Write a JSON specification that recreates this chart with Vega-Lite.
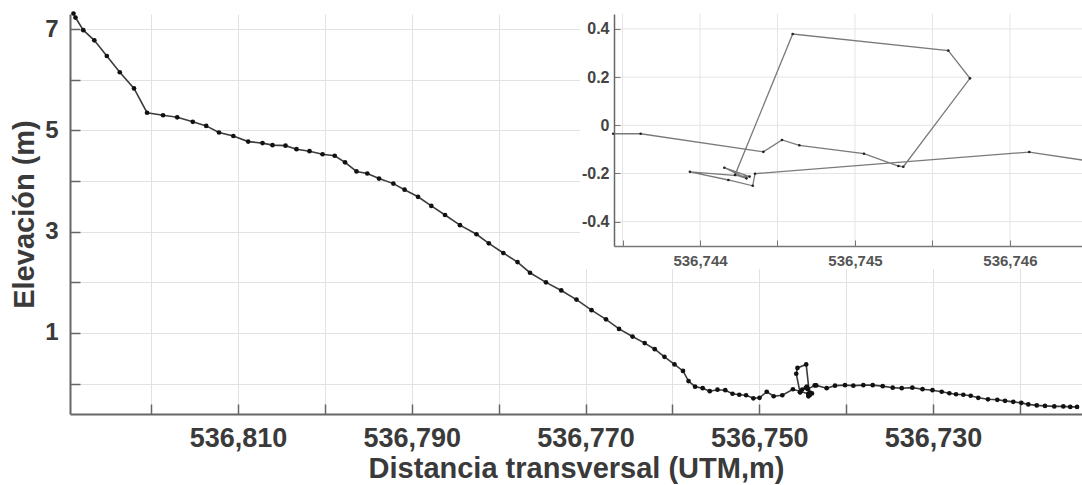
{
  "$schema": "https://vega.github.io/schema/vega-lite/v6.json",
  "width": 1012,
  "height": 400,
  "autosize": {"type": "none"},
  "padding": {"left": 70, "top": 14, "right": 0, "bottom": 71},
  "background": "white",
  "config": {
    "view": {"stroke": null},
    "font": "Liberation Sans"
  },
  "datasets": {
    "profile": [
      {"i": 1, "x": 536828.94, "y": 7.31},
      {"i": 2, "x": 536828.71, "y": 7.23},
      {"i": 3, "x": 536827.81, "y": 6.98},
      {"i": 4, "x": 536826.54, "y": 6.78},
      {"i": 5, "x": 536825.10, "y": 6.47},
      {"i": 6, "x": 536823.61, "y": 6.15},
      {"i": 7, "x": 536821.97, "y": 5.83},
      {"i": 8, "x": 536820.47, "y": 5.35},
      {"i": 9, "x": 536818.63, "y": 5.30},
      {"i": 10, "x": 536817.00, "y": 5.26},
      {"i": 11, "x": 536815.21, "y": 5.17},
      {"i": 12, "x": 536813.66, "y": 5.09},
      {"i": 13, "x": 536812.19, "y": 4.96},
      {"i": 14, "x": 536810.54, "y": 4.89},
      {"i": 15, "x": 536808.83, "y": 4.78},
      {"i": 16, "x": 536807.18, "y": 4.75},
      {"i": 17, "x": 536806.03, "y": 4.71},
      {"i": 18, "x": 536804.53, "y": 4.70},
      {"i": 19, "x": 536803.27, "y": 4.63},
      {"i": 20, "x": 536801.77, "y": 4.59},
      {"i": 21, "x": 536800.27, "y": 4.53},
      {"i": 22, "x": 536798.87, "y": 4.50},
      {"i": 23, "x": 536797.68, "y": 4.37},
      {"i": 24, "x": 536796.36, "y": 4.19},
      {"i": 25, "x": 536795.12, "y": 4.15},
      {"i": 26, "x": 536793.77, "y": 4.05},
      {"i": 27, "x": 536792.12, "y": 3.95},
      {"i": 28, "x": 536790.83, "y": 3.83},
      {"i": 29, "x": 536789.28, "y": 3.69},
      {"i": 30, "x": 536787.75, "y": 3.51},
      {"i": 31, "x": 536786.17, "y": 3.33},
      {"i": 32, "x": 536784.45, "y": 3.13},
      {"i": 33, "x": 536782.55, "y": 2.95},
      {"i": 34, "x": 536781.13, "y": 2.77},
      {"i": 35, "x": 536779.46, "y": 2.58},
      {"i": 36, "x": 536777.83, "y": 2.40},
      {"i": 37, "x": 536776.39, "y": 2.19},
      {"i": 38, "x": 536774.55, "y": 2.00},
      {"i": 39, "x": 536772.79, "y": 1.84},
      {"i": 40, "x": 536771.04, "y": 1.66},
      {"i": 41, "x": 536769.31, "y": 1.45},
      {"i": 42, "x": 536767.64, "y": 1.27},
      {"i": 43, "x": 536766.14, "y": 1.08},
      {"i": 44, "x": 536764.59, "y": 0.93},
      {"i": 45, "x": 536763.19, "y": 0.80},
      {"i": 46, "x": 536762.03, "y": 0.68},
      {"i": 47, "x": 536760.91, "y": 0.53},
      {"i": 48, "x": 536759.76, "y": 0.38},
      {"i": 49, "x": 536758.78, "y": 0.25},
      {"i": 50, "x": 536758.14, "y": 0.05},
      {"i": 51, "x": 536757.39, "y": -0.06},
      {"i": 52, "x": 536756.51, "y": -0.09},
      {"i": 53, "x": 536755.70, "y": -0.15},
      {"i": 54, "x": 536754.81, "y": -0.12},
      {"i": 55, "x": 536753.91, "y": -0.13},
      {"i": 56, "x": 536753.08, "y": -0.20},
      {"i": 57, "x": 536752.30, "y": -0.22},
      {"i": 58, "x": 536751.52, "y": -0.23},
      {"i": 59, "x": 536750.68, "y": -0.29},
      {"i": 60, "x": 536749.97, "y": -0.28},
      {"i": 61, "x": 536749.14, "y": -0.16},
      {"i": 62, "x": 536748.34, "y": -0.25},
      {"i": 63, "x": 536747.35, "y": -0.23},
      {"i": 64, "x": 536746.125, "y": -0.111},
      {"i": 65, "x": 536744.355, "y": -0.201},
      {"i": 66, "x": 536744.34, "y": -0.251},
      {"i": 67, "x": 536744.183, "y": -0.227},
      {"i": 68, "x": 536743.935, "y": -0.193},
      {"i": 69, "x": 536744.32, "y": -0.213},
      {"i": 70, "x": 536744.157, "y": -0.176},
      {"i": 71, "x": 536744.30, "y": -0.22},
      {"i": 72, "x": 536744.226, "y": -0.206},
      {"i": 73, "x": 536744.598, "y": 0.379},
      {"i": 74, "x": 536745.602, "y": 0.310},
      {"i": 75, "x": 536745.742, "y": 0.195},
      {"i": 76, "x": 536745.312, "y": -0.172},
      {"i": 77, "x": 536745.28, "y": -0.169},
      {"i": 78, "x": 536745.058, "y": -0.118},
      {"i": 79, "x": 536744.641, "y": -0.083},
      {"i": 80, "x": 536744.529, "y": -0.061},
      {"i": 81, "x": 536744.409, "y": -0.110},
      {"i": 82, "x": 536743.617, "y": -0.035},
      {"i": 83, "x": 536743.44, "y": -0.035},
      {"i": 84, "x": 536742.24, "y": -0.09},
      {"i": 85, "x": 536741.28, "y": -0.04},
      {"i": 86, "x": 536740.13, "y": -0.03},
      {"i": 87, "x": 536739.17, "y": -0.04},
      {"i": 88, "x": 536738.02, "y": -0.03},
      {"i": 89, "x": 536736.94, "y": -0.03},
      {"i": 90, "x": 536735.79, "y": -0.05},
      {"i": 91, "x": 536734.64, "y": -0.08},
      {"i": 92, "x": 536733.60, "y": -0.09},
      {"i": 93, "x": 536732.38, "y": -0.08},
      {"i": 94, "x": 536731.21, "y": -0.11},
      {"i": 95, "x": 536730.06, "y": -0.13},
      {"i": 96, "x": 536729.00, "y": -0.16},
      {"i": 97, "x": 536728.12, "y": -0.19},
      {"i": 98, "x": 536727.35, "y": -0.21},
      {"i": 99, "x": 536726.51, "y": -0.22},
      {"i": 100, "x": 536725.66, "y": -0.24},
      {"i": 101, "x": 536724.79, "y": -0.28},
      {"i": 102, "x": 536723.67, "y": -0.31},
      {"i": 103, "x": 536722.60, "y": -0.32},
      {"i": 104, "x": 536721.71, "y": -0.34},
      {"i": 105, "x": 536720.76, "y": -0.36},
      {"i": 106, "x": 536719.84, "y": -0.38},
      {"i": 107, "x": 536719.03, "y": -0.41},
      {"i": 108, "x": 536718.06, "y": -0.43},
      {"i": 109, "x": 536717.11, "y": -0.44},
      {"i": 110, "x": 536716.04, "y": -0.45},
      {"i": 111, "x": 536715.00, "y": -0.45},
      {"i": 112, "x": 536714.20, "y": -0.46},
      {"i": 113, "x": 536713.42, "y": -0.46}
    ]
  },
  "layer": [
    {
      "data": {"name": "profile"},
      "encoding": {
        "x": {
          "field": "x", "type": "quantitative",
          "scale": {"domain": [536712.85, 536829.34], "reverse": true, "nice": false, "zero": false},
          "axis": {
            "values": [536720, 536730, 536740, 536750, 536760, 536770, 536780, 536790, 536800, 536810, 536820],
            "labelExpr": "(datum.value - 536810) % 20 == 0 ? format(datum.value, ',') : ''",
            "title": "Distancia transversal (UTM,m)",
            "titleFontSize": 29, "titleFontWeight": "bold", "titleColor": "#3a3a3a", "titlePadding": 3,
            "labelFontSize": 27, "labelFontWeight": "bold", "labelColor": "#3a3a3a",
            "labelPadding": 21, "tickSize": -10, "tickColor": "#666", "tickWidth": 1.5,
            "domainColor": "#666", "domainWidth": 2,
            "grid": true, "gridColor": "#e2e2e2", "gridWidth": 1,
            "labelFlush": false, "labelOverlap": false
          }
        },
        "y": {
          "field": "y", "type": "quantitative",
          "scale": {"domain": [-0.6, 7.3], "nice": false, "zero": false},
          "axis": {
            "values": [0, 1, 2, 3, 4, 5, 6, 7],
            "labelExpr": "datum.value % 2 == 1 ? datum.value + '' : ''",
            "title": "Elevación (m)",
            "titleFontSize": 29, "titleFontWeight": "bold", "titleColor": "#3a3a3a", "titlePadding": 5,
            "labelFontSize": 24, "labelFontWeight": "bold", "labelColor": "#3a3a3a",
            "labelPadding": 22, "tickSize": -10, "tickColor": "#666", "tickWidth": 1.5,
            "domainColor": "#666", "domainWidth": 2,
            "grid": true, "gridColor": "#e2e2e2", "gridWidth": 1,
            "labelFlush": false, "labelOverlap": false
          }
        }
      },
      "layer": [
        {"mark": {"type": "line", "color": "#3c3c3c", "strokeWidth": 1.6}, "encoding": {"order": {"field": "i", "type": "quantitative"}}},
        {"mark": {"type": "point", "filled": true, "color": "#111", "size": 22, "opacity": 1}}
      ]
    },
    {
      "layer": [
        {
          "data": {"values": [{}]},
          "mark": {"type": "rect", "fill": "white", "stroke": null},
          "encoding": {
            "x": {"datum": 536743.226, "type": "quantitative"},
            "x2": {"datum": 536746.7},
            "y": {"datum": -0.596, "type": "quantitative"},
            "y2": {"datum": 0.52}
          }
        },
        {"data": {"values": [{}]}, "mark": {"type": "rule", "color": "#e4e4e4", "strokeWidth": 1},
         "encoding": {"x": {"datum": 536743.5, "type": "quantitative"}, "y": {"datum": -0.501, "type": "quantitative"}, "y2": {"datum": 0.462}}},
        {"data": {"values": [{}]}, "mark": {"type": "rule", "color": "#e4e4e4", "strokeWidth": 1},
         "encoding": {"x": {"datum": 536744, "type": "quantitative"}, "y": {"datum": -0.501, "type": "quantitative"}, "y2": {"datum": 0.462}}},
        {"data": {"values": [{}]}, "mark": {"type": "rule", "color": "#e4e4e4", "strokeWidth": 1},
         "encoding": {"x": {"datum": 536744.5, "type": "quantitative"}, "y": {"datum": -0.501, "type": "quantitative"}, "y2": {"datum": 0.462}}},
        {"data": {"values": [{}]}, "mark": {"type": "rule", "color": "#e4e4e4", "strokeWidth": 1},
         "encoding": {"x": {"datum": 536745, "type": "quantitative"}, "y": {"datum": -0.501, "type": "quantitative"}, "y2": {"datum": 0.462}}},
        {"data": {"values": [{}]}, "mark": {"type": "rule", "color": "#e4e4e4", "strokeWidth": 1},
         "encoding": {"x": {"datum": 536745.5, "type": "quantitative"}, "y": {"datum": -0.501, "type": "quantitative"}, "y2": {"datum": 0.462}}},
        {"data": {"values": [{}]}, "mark": {"type": "rule", "color": "#e4e4e4", "strokeWidth": 1},
         "encoding": {"x": {"datum": 536746, "type": "quantitative"}, "y": {"datum": -0.501, "type": "quantitative"}, "y2": {"datum": 0.462}}},
        {"data": {"values": [{}]}, "mark": {"type": "rule", "color": "#e4e4e4", "strokeWidth": 1},
         "encoding": {"y": {"datum": -0.4, "type": "quantitative"}, "x": {"datum": 536743.445, "type": "quantitative"}, "x2": {"datum": 536746.465}}},
        {"data": {"values": [{}]}, "mark": {"type": "rule", "color": "#e4e4e4", "strokeWidth": 1},
         "encoding": {"y": {"datum": -0.2, "type": "quantitative"}, "x": {"datum": 536743.445, "type": "quantitative"}, "x2": {"datum": 536746.465}}},
        {"data": {"values": [{}]}, "mark": {"type": "rule", "color": "#e4e4e4", "strokeWidth": 1},
         "encoding": {"y": {"datum": 0, "type": "quantitative"}, "x": {"datum": 536743.445, "type": "quantitative"}, "x2": {"datum": 536746.465}}},
        {"data": {"values": [{}]}, "mark": {"type": "rule", "color": "#e4e4e4", "strokeWidth": 1},
         "encoding": {"y": {"datum": 0.2, "type": "quantitative"}, "x": {"datum": 536743.445, "type": "quantitative"}, "x2": {"datum": 536746.465}}},
        {"data": {"values": [{}]}, "mark": {"type": "rule", "color": "#e4e4e4", "strokeWidth": 1},
         "encoding": {"y": {"datum": 0.4, "type": "quantitative"}, "x": {"datum": 536743.445, "type": "quantitative"}, "x2": {"datum": 536746.465}}},
        {
          "data": {"name": "profile"},
          "transform": [{"filter": "datum.x > 536743.4 && datum.x < 536747.4"}],
          "encoding": {
            "x": {
              "field": "x", "type": "quantitative",
              "scale": {"domain": [536743.445, 536746.465], "range": [544, 1012], "nice": false, "zero": false},
              "axis": {
                "orient": "bottom", "offset": -168, "zindex": 1,
                "values": [536743.5, 536744, 536744.5, 536745, 536745.5, 536746],
                "labelExpr": "datum.value % 1 == 0 ? format(datum.value, ',') : ''",
                "title": null,
                "labelFontSize": 15, "labelFontWeight": "bold", "labelColor": "#555",
                "labelPadding": 13, "tickSize": -6, "tickColor": "#777", "tickWidth": 1,
                "domainColor": "#777", "domainWidth": 1.5,
                "grid": false,
                "labelFlush": false, "labelOverlap": false
              }
            },
            "y": {
              "field": "y", "type": "quantitative",
              "scale": {"domain": [-0.501, 0.462], "range": [232, 0], "nice": false, "zero": false},
              "axis": {
                "orient": "left", "offset": -544, "zindex": 1,
                "values": [-0.4, -0.2, 0, 0.2, 0.4],
                "labelExpr": "'' + datum.value",
                "title": null,
                "labelFontSize": 16, "labelFontWeight": "bold", "labelColor": "#444",
                "labelPadding": 11, "tickSize": -6, "tickColor": "#777", "tickWidth": 1,
                "domainColor": "#666", "domainWidth": 1.5,
                "grid": false,
                "labelFlush": false, "labelOverlap": false
              }
            }
          },
          "layer": [
            {"mark": {"type": "line", "color": "#7a7a7a", "strokeWidth": 1.3}, "encoding": {"order": {"field": "i", "type": "quantitative"}}},
            {"mark": {"type": "point", "filled": true, "color": "#222", "size": 7, "opacity": 1}}
          ]
        }
      ]
    }
  ],
  "resolve": {"scale": {"x": "independent", "y": "independent"}}
}
